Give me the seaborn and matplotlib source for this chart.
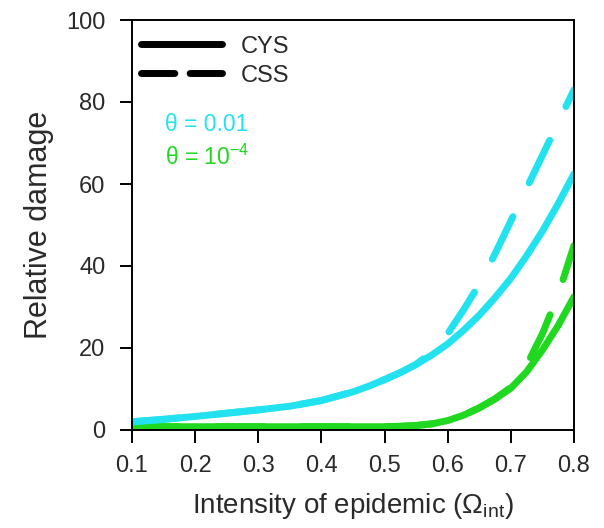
import numpy as np
import pandas as pd
import matplotlib
matplotlib.use("Agg")
import matplotlib.pyplot as plt
from matplotlib.lines import Line2D
import seaborn as sns

# Intensity of epidemic (Omega_int) grid
omega = [0.10, 0.15, 0.20, 0.25, 0.30, 0.35, 0.40, 0.45, 0.475, 0.50, 0.525,
         0.55, 0.575, 0.60, 0.625, 0.65, 0.675, 0.70, 0.725, 0.75, 0.775, 0.80]

# Relative damage, theta = 0.01
cys_theta_hi = [2.0, 2.6, 3.3, 4.1, 4.9, 5.8, 7.2, 9.3, 10.7, 12.3, 14.0,
                16.0, 18.3, 21.0, 24.3, 28.0, 32.3, 37.0, 42.5, 48.5, 55.2, 62.5]
css_theta_hi = [2.0, 2.6, 3.3, 4.1, 4.9, 5.8, 7.2, 9.3, 10.7, 12.3, 14.0,
                16.0, 19.0, 23.5, 29.3, 35.5, 43.0, 51.0, 59.0, 67.0, 75.0, 83.0]

# Relative damage, theta = 1e-4
cys_theta_lo = [0.8, 0.8, 0.8, 0.8, 0.8, 0.8, 0.8, 0.8, 0.8, 0.8, 0.9,
                1.1, 1.5, 2.3, 3.6, 5.4, 7.6, 10.2, 14.2, 19.5, 25.5, 32.5]
css_theta_lo = [0.8, 0.8, 0.8, 0.8, 0.8, 0.8, 0.8, 0.8, 0.8, 0.8, 0.9,
                1.1, 1.5, 2.3, 3.6, 5.4, 7.6, 10.4, 15.8, 23.5, 33.0, 45.0]

x_ticks = [0.1, 0.2, 0.3, 0.4, 0.5, 0.6, 0.7, 0.8]
y_ticks = [0, 20, 40, 60, 80, 100]

CYAN = "#22e2f0"
GREEN = "#1fd81f"
TEXT = "#2a2a2a"

sns.set_style("white")
plt.rcParams["font.family"] = ["Liberation Sans", "DejaVu Sans"]
plt.rcParams["mathtext.fontset"] = "custom"
plt.rcParams["mathtext.rm"] = "Liberation Sans"
plt.rcParams["mathtext.it"] = "Liberation Sans:italic"
plt.rcParams["lines.scale_dashes"] = False

frames = []
for theta, scheme, vals in [
    ("0.01", "CYS", cys_theta_hi),
    ("0.01", "CSS", css_theta_hi),
    ("1e-4", "CYS", cys_theta_lo),
    ("1e-4", "CSS", css_theta_lo),
]:
    frames.append(pd.DataFrame({"omega": omega, "damage": vals,
                                "theta": theta, "scheme": scheme}))
df = pd.concat(frames, ignore_index=True)

fig = plt.figure(figsize=(6.04, 5.28), dpi=100)
ax = fig.add_axes([132 / 604, 1 - 430 / 528, 442 / 604, 410 / 528])

sns.lineplot(
    data=df, x="omega", y="damage", hue="theta", style="scheme",
    palette={"0.01": CYAN, "1e-4": GREEN},
    dashes={"CYS": "", "CSS": (34, 27)},
    hue_order=["1e-4", "0.01"], style_order=["CYS", "CSS"],
    linewidth=5.0, legend=False, ax=ax,
)
for ln in ax.get_lines():
    ln.set_solid_capstyle("round")
    ln.set_dash_capstyle("round")
    ln.set_solid_joinstyle("round")

ax.set_xlim(0.1, 0.8)
ax.set_ylim(0, 100)
ax.set_xticks(x_ticks)
ax.set_xticklabels([f"{t:.1f}" for t in x_ticks])
ax.set_yticks(y_ticks)
ax.tick_params(axis="both", direction="out", length=9, width=1.4,
               labelsize=17, colors="black", labelcolor=TEXT,
               bottom=True, left=True, top=False, right=False)
ax.tick_params(axis="x", pad=9)
ax.tick_params(axis="y", pad=10)
for sp in ax.spines.values():
    sp.set_visible(True)
    sp.set_color("black")
    sp.set_linewidth(1.4)

ax.set_xlabel("Intensity of epidemic (\u03a9$_{\\mathrm{int}}$)", fontsize=20,
              color=TEXT, labelpad=10)
ax.set_ylabel("Relative damage", fontsize=22, color=TEXT, labelpad=9)

handles = [
    Line2D([], [], color="black", lw=5.0, solid_capstyle="round"),
    Line2D([], [], color="black", lw=5.0, dashes=(24, 11), dash_capstyle="round"),
]
ax.legend(handles, ["CYS", "CSS"], loc="upper left", bbox_to_anchor=(0.0, 0.985),
          frameon=False, fontsize=17, handlelength=3.4, handletextpad=0.8,
          labelspacing=0.3, borderaxespad=0.0, labelcolor=TEXT)

ax.text(0.075, 0.745, "\u03b8 = 0.01", transform=ax.transAxes, color=CYAN,
        fontsize=16.5, va="center", ha="left")
ax.text(0.075, 0.665, "\u03b8 = 10$^{-4}$", transform=ax.transAxes,
        color=GREEN, fontsize=16.5, va="center", ha="left")

fig.savefig("out.png", dpi=100)
